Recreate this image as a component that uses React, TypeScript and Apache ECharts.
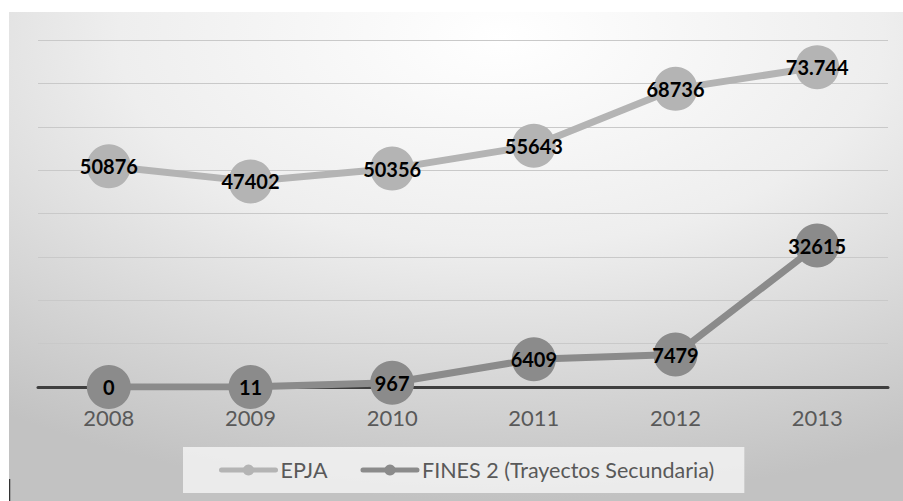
import React, { useEffect, useRef } from "react";
import * as echarts from "echarts";

const years = ["2008", "2009", "2010", "2011", "2012", "2013"];
const epjaValues = [50876, 47402, 50356, 55643, 68736, 73744];
const epjaLabels = ["50876", "47402", "50356", "55643", "68736", "73.744"];
const finesValues = [0, 11, 967, 6409, 7479, 32615];
const finesLabels = ["0", "11", "967", "6409", "7479", "32615"];
const seriesNames = ["EPJA", "FINES 2 (Trayectos Secundaria)"];

export default function App() {
  const ref = useRef<HTMLDivElement>(null);
  useEffect(() => {
    if (!ref.current) return;
    const chart = echarts.init(ref.current, undefined, { renderer: "svg" });
    const font = "Lato, 'Noto Sans', sans-serif";
    const labelStyle = (labels: string[]) => ({
      show: true,
      position: "inside",
      color: "#000",
      fontFamily: font,
      fontWeight: "bold",
      fontSize: 20,
      formatter: (p: any) => labels[p.dataIndex],
    });
    chart.setOption({
      animation: false,
      backgroundColor: new echarts.graphic.RadialGradient(0.55, 0.05, 0.95, [
        { offset: 0, color: "#ffffff" },
        { offset: 0.45, color: "#eeeeee" },
        { offset: 1, color: "#c2c2c2" },
      ]),
      grid: { left: 29, right: 15, top: 28, bottom: 114 },
      xAxis: {
        type: "category",
        data: years,
        boundaryGap: true,
        axisLine: { lineStyle: { color: "#3f3f3f", width: 3 } },
        axisTick: { show: false },
        axisLabel: { color: "#595959", fontFamily: font, fontSize: 22, margin: 19 },
      },
      yAxis: {
        type: "value",
        min: 0,
        max: 80000,
        interval: 10000,
        axisLabel: { show: false },
        axisLine: { show: false },
        axisTick: { show: false },
        splitLine: { lineStyle: { color: "#c9c9c9", width: 1 } },
      },
      legend: {
        data: seriesNames,
        left: 174,
        top: 435,
        padding: [12, 30, 12, 36],
        backgroundColor: "rgba(245,245,245,0.8)",
        itemWidth: 54,
        itemHeight: 14,
        itemGap: 33,
        lineStyle: { width: 5, cap: "round" },
        textStyle: { color: "#595959", fontFamily: font, fontSize: 21.5, padding: [2, 0, 0, 0] },
      },
      series: [
        {
          name: seriesNames[0],
          type: "line",
          data: epjaValues,
          symbol: "circle",
          symbolSize: 44,
          lineStyle: { color: "#b4b4b4", width: 7 },
          itemStyle: { color: "#b4b4b4" },
          label: labelStyle(epjaLabels),
        },
        {
          name: seriesNames[1],
          type: "line",
          data: finesValues,
          symbol: "circle",
          symbolSize: 44,
          lineStyle: { color: "#8b8b8b", width: 7 },
          itemStyle: { color: "#8b8b8b" },
          label: labelStyle(finesLabels),
        },
      ],
      graphic: [
        {
          type: "line",
          shape: { x1: 0.5, y1: 467, x2: 0.5, y2: 489 },
          style: { stroke: "#333", lineWidth: 1.5 },
        },
      ],
    });
    return () => chart.dispose();
  }, []);
  return (
    <div
      ref={ref}
      style={{ position: "absolute", left: 9, top: 12, width: 894, height: 489 }}
    />
  );
}
